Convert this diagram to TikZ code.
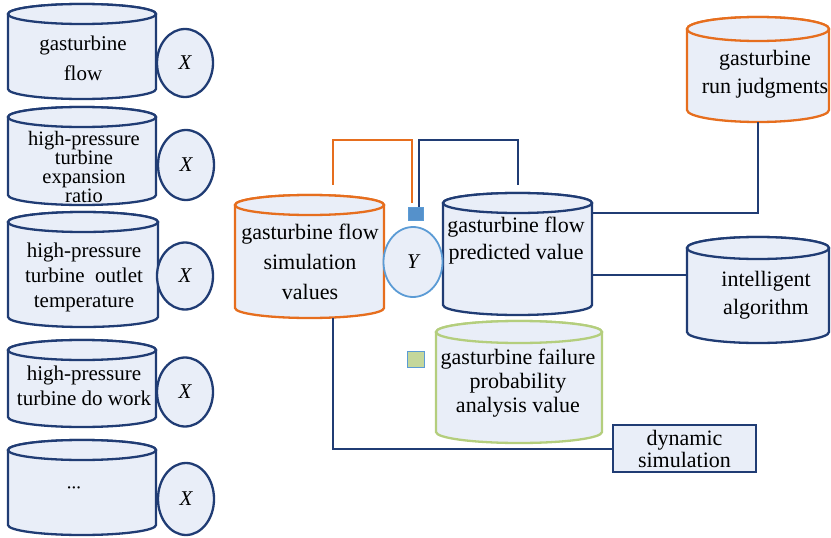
\documentclass[tikz,border=0pt]{standalone}
\usepackage{fontspec}
\setmainfont{Liberation Serif}
\newfontfamily\timesfont{Liberation Serif}
\usetikzlibrary{shapes.geometric,positioning}
\definecolor{navy}{RGB}{32,60,116}
\definecolor{paleblue}{RGB}{233,238,248}
\definecolor{burnt}{RGB}{230,110,30}
\definecolor{sage}{RGB}{180,206,125}
\definecolor{skyline}{RGB}{91,155,213}
\definecolor{sqgreen}{RGB}{196,215,155}
\tikzset{
  drumline/.style={line width=2.3pt, fill=paleblue},
  conn/.style={line width=2pt, draw=navy},
  xnode/.style={ellipse, draw=navy, line width=2.3pt, fill=paleblue, minimum width=56pt, minimum height=68pt, inner sep=0pt, font=\timesfont\fontsize{21}{21}\selectfont\itshape},
  txt/.style={align=center, inner sep=0pt, font=\timesfont\fontsize{21}{#1}\selectfont},
  txt/.default=26,
  bigtxt/.style={align=center, inner sep=0pt, font=\timesfont\fontsize{22}{#1}\selectfont}
}
\newcommand{\drum}[7]{%
  \filldraw[drumline,draw=#2] (#3,#4+#7) -- (#3,#6-#7) arc[start angle=180,end angle=0,x radius={(#5-#3)/2},y radius=#7] -- (#5,#4+#7) arc[start angle=0,end angle=-180,x radius={(#5-#3)/2},y radius=#7] -- cycle;
  \draw[drumline,draw=#2] ({(#3+#5)/2},#4+#7) ellipse[x radius={(#5-#3)/2},y radius=#7];
  \node[inner sep=0pt,minimum width={(#5-#3)*1pt},minimum height={(#6-#4)*1pt}] (#1) at ({(#3+#5)/2},{(#4+#6)/2}) {};
}
\begin{document}
\begin{tikzpicture}[x=1pt,y=-1pt]
\useasboundingbox (0,0) rectangle (831,538);
\drum{flow}{navy}{8}{4}{156}{99}{10}
\drum{ratio}{navy}{8}{107}{156}{205}{10}
\drum{outlet}{navy}{8}{212}{158}{327}{10}
\drum{work}{navy}{8}{340}{156}{427}{10}
\drum{more}{navy}{8}{440}{156}{535}{10}
\node[txt=30] (flowtxt) at (83,58) {gasturbine\\flow};
\node[txt=19, font=\timesfont\fontsize{20.5}{19}\selectfont] (ratiotxt) at (84,167) {high-pressure\\turbine\\expansion\\ratio};
\node[txt=25] (outlettxt) at (84,277) {high-pressure\\turbine\ \ outlet\\temperature};
\node[txt=25] (worktxt) at (84,386) {high-pressure\\turbine do work};
\node[txt, font=\timesfont\fontsize{14}{14}\selectfont\bfseries] (moretxt) at (74,490) {···};
\node[xnode] (x1) at (185,63) {X};
\node[xnode, minimum height=70pt] (x2) at (186,165) {X};
\node[xnode, minimum height=67pt] (x3) at (185,276) {X};
\node[xnode, minimum height=69pt] (x4) at (185,392) {X};
\node[xnode, minimum height=72pt] (x5) at (186,499) {X};
\drum{sim}{burnt}{235}{195}{384}{318}{10}
\drum{pred}{navy}{443}{193}{592}{315}{10}
\drum{run}{burnt}{687}{17}{829}{122}{12}
\drum{intel}{navy}{687}{237}{829}{343}{11}
\drum{fail}{sage}{436}{321}{602}{443}{11}
\node[bigtxt=30] (simtxt) at (310,262) {gasturbine flow\\simulation\\values};
\node[bigtxt=27] (predtxt) at (516,241) {gasturbine flow\\predicted value};
\node[bigtxt=28] (runtxt) at (765,74) {gasturbine\\run judgments};
\node[bigtxt=28] (inteltxt) at (766,295) {intelligent\\algorithm};
\node[bigtxt=24] (failtxt) at (518,383) {gasturbine failure\\probability\\analysis value};
\node[ellipse, draw=skyline, line width=1.8pt, fill=paleblue, minimum width=59pt, minimum height=70pt, inner sep=0pt, font=\timesfont\fontsize{21}{21}\selectfont\itshape] (y) at (413,262) {Y};
\node[draw=skyline, fill=skyline!90!navy, line width=1pt, minimum width=15pt, minimum height=13pt, inner sep=0pt] (ysq) at (415.5,214) {};
\node[draw=skyline, fill=sqgreen, line width=1.5pt, minimum width=17pt, minimum height=16pt, inner sep=0pt] (gsq) at (416,359.5) {};
\node[draw=navy, fill=paleblue, line width=2.3pt, minimum width=143pt, minimum height=47pt, bigtxt=22] (dyn) at (684.5,448.5) {dynamic\\simulation};
\draw[conn, draw=burnt] ([xshift=23pt,yshift=10pt]sim.north) -- ++(0,-45) -| ([xshift=-4pt,yshift=4pt]ysq.north);
\draw[conn] ([xshift=3pt]ysq.north) -- ++(0,-67) -| ([yshift=8pt]pred.north);
\draw[conn] (run.south) |- ([yshift=41pt]pred.east);
\draw[conn] ([yshift=-21pt]pred.east) -- ([yshift=-21pt]pred.east -| intel.west);
\draw[conn] ([xshift=23pt]sim.south) |- (dyn.west);
\end{tikzpicture}
\end{document}
